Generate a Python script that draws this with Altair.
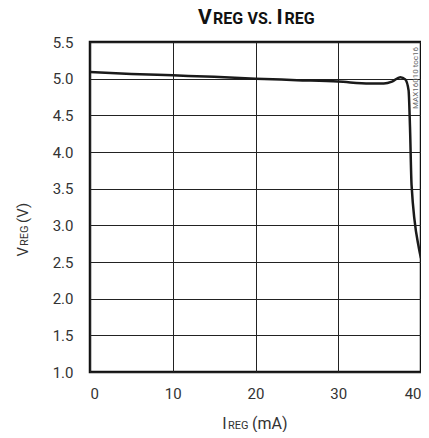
import altair as alt
import pandas as pd

# Curve
i_reg = [0, 5, 10, 15, 20, 25, 30, 33.8, 35.5, 36.5, 37.5, 38.1, 38.5, 38.67, 38.86, 39.76, 40]
v_reg = [5.09, 5.065, 5.045, 5.025, 5.0, 4.98, 4.96, 4.935, 4.935, 4.96, 5.02, 4.99, 4.84, 4.34, 3.55, 2.68, 2.55]

x_ticks = [0, 10, 20, 30, 40]
y_ticks = [1.0, 1.5, 2.0, 2.5, 3.0, 3.5, 4.0, 4.5, 5.0, 5.5]

title_parts = ["V", "REG", "VS.", "I", "REG"]
y_title_parts = ["V", "REG", "(V)"]
x_title_parts = ["I", "REG", "(mA)"]
note_text = "MAX16010 toc16"

df = pd.DataFrame({"I": i_reg, "V": v_reg})
one = pd.DataFrame({"k": [0]})

FONT = "Roboto, 'DejaVu Sans', sans-serif"
INK = "#111"
GREY = "#333"


def txt(s, x, y, size, bold=False, angle=0, color=INK, align="left"):
    return alt.Chart(one).mark_text(
        text=s, fontSize=size, fontWeight="bold" if bold else "normal", font=FONT,
        align=align, baseline="alphabetic", angle=angle, color=color,
    ).encode(x=alt.value(x), y=alt.value(y))


x_enc = alt.X("I:Q", scale=alt.Scale(domain=[0, 40], nice=False),
              axis=alt.Axis(values=x_ticks, title=None, grid=True, gridColor="#222",
                            gridWidth=1, domain=False, ticks=False, labelPadding=14,
                            labelFontSize=15, labelColor=GREY, labelFont=FONT))
y_enc = alt.Y("V:Q", scale=alt.Scale(domain=[1.0, 5.5], nice=False, zero=False),
              axis=alt.Axis(values=y_ticks, format=".1f", title=None, grid=True,
                            gridColor="#222", gridWidth=1, domain=False, ticks=False,
                            labelPadding=17, labelFontSize=15, labelColor=GREY, labelFont=FONT))

line = alt.Chart(df).mark_line(color="#1a1a1a", strokeWidth=2.5, interpolate="monotone").encode(
    x=x_enc, y=y_enc)

layers = [line]

# chart title: V REG VS. I REG (small caps look)
layers += [
    txt(title_parts[0], 108, -18, 21, bold=True),
    txt(title_parts[1], 123, -18, 16, bold=True),
    txt(title_parts[2], 157.5, -18, 16, bold=True),
    txt(title_parts[3], 186.5, -18, 21, bold=True),
    txt(title_parts[4], 194.5, -18, 16, bold=True),
]

# y axis title, rotated
layers += [
    txt(y_title_parts[0], -62, 214.5, 15, angle=270, color=GREY),
    txt(y_title_parts[1], -62, 204, 11, angle=270, color=GREY),
    txt(y_title_parts[2], -62, 181, 15, angle=270, color=GREY),
]

# x axis title
layers += [
    txt(x_title_parts[0], 132.3, 387, 16, color=GREY),
    txt(x_title_parts[1], 138, 387, 11, color=GREY),
    txt(x_title_parts[2], 162, 387, 16, color=GREY),
]

# side note, tucked against the right frame
layers.append(txt(note_text, 327.5, 36, 8, angle=270, color="#666", align="center"))

chart = alt.layer(*layers).properties(
    width=331, height=330,
    autosize=alt.AutoSizeParams(type="none"),
    padding={"left": 82, "top": 34, "right": 0, "bottom": 60},
).configure_view(stroke="#111", strokeWidth=2.5)

chart.save("out.html", embed_options={"renderer": "svg", "actions": False})
